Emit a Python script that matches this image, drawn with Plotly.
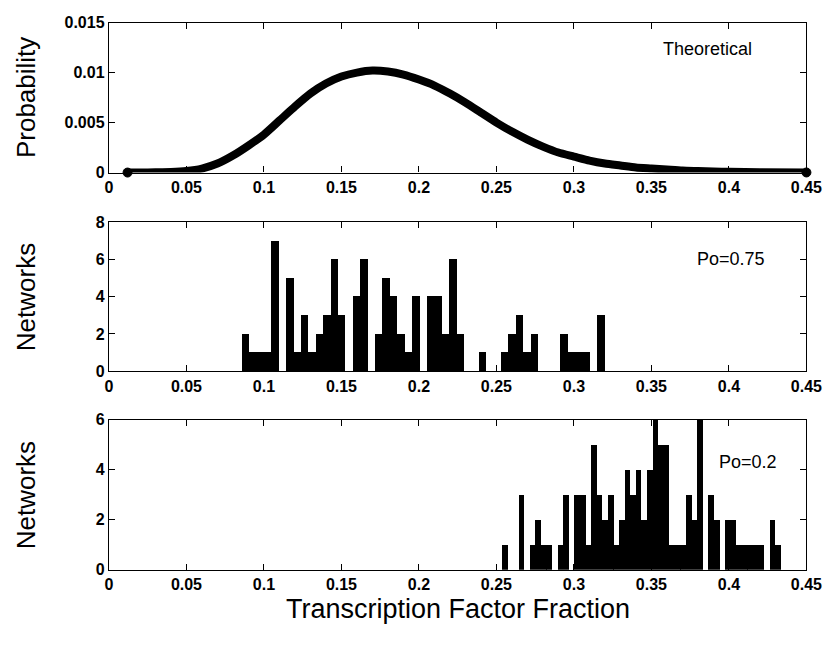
import plotly.graph_objects as go

# ---------------- data ----------------
theory_x = [0.012, 0.02, 0.03, 0.04, 0.05, 0.06, 0.07, 0.08, 0.09, 0.10,
            0.11, 0.12, 0.13, 0.14, 0.15, 0.16, 0.17, 0.18, 0.19, 0.20,
            0.21, 0.22, 0.23, 0.24, 0.25, 0.26, 0.27, 0.28, 0.29, 0.30,
            0.31, 0.32, 0.33, 0.34, 0.35, 0.36, 0.37, 0.38, 0.39, 0.40,
            0.42, 0.45]
theory_p = [0.0, 0.0, 0.00002, 0.00005, 0.00015, 0.0004, 0.0009, 0.0017, 0.0027, 0.0038,
            0.0052, 0.0066, 0.0079, 0.0089, 0.0096, 0.0100, 0.0102, 0.0101, 0.0098, 0.0093,
            0.0087, 0.0079, 0.0070, 0.0060, 0.0050, 0.0041, 0.0033, 0.0026, 0.0020, 0.0016,
            0.0012, 0.0009, 0.0007, 0.0005, 0.0004, 0.0003, 0.0002, 0.00015, 0.0001, 0.00007,
            0.00004, 0.00001]

po75_x = [0.0880, 0.0928, 0.0976, 0.1023, 0.1071, 0.1167, 0.1215, 0.1262, 0.1310, 0.1358,
          0.1406, 0.1454, 0.1501, 0.1597, 0.1645, 0.1740, 0.1788, 0.1836, 0.1884, 0.1932,
          0.1979, 0.2075, 0.2123, 0.2171, 0.2218, 0.2266, 0.2410, 0.2553, 0.2601, 0.2649,
          0.2696, 0.2744, 0.2935, 0.2983, 0.3031, 0.3079, 0.3174]
po75_n = [2, 1, 1, 1, 7, 5, 1, 3, 1, 2,
          3, 6, 3, 4, 6, 2, 5, 4, 2, 1,
          4, 4, 4, 2, 6, 2, 1, 1, 2, 3,
          1, 2, 2, 1, 1, 1, 3]

po20_x = [0.2553, 0.2661, 0.2733, 0.2769, 0.2805, 0.2841, 0.2913, 0.2949, 0.3021, 0.3057,
          0.3093, 0.3129, 0.3165, 0.3201, 0.3237, 0.3273, 0.3309, 0.3345, 0.3381, 0.3417,
          0.3453, 0.3489, 0.3525, 0.3561, 0.3597, 0.3633, 0.3669, 0.3705, 0.3741, 0.3777,
          0.3813, 0.3885, 0.3921, 0.3993, 0.4029, 0.4065, 0.4101, 0.4137, 0.4173, 0.4209,
          0.4281, 0.4317]
po20_n = [1, 3, 1, 2, 1, 1, 1, 3, 3, 3,
          1, 5, 3, 2, 3, 1, 2, 4, 3, 4,
          2, 4, 6, 5, 5, 1, 1, 1, 3, 2,
          6, 3, 2, 2, 2, 1, 1, 1, 1, 1,
          2, 1]

x_tick_vals = [0, 0.05, 0.1, 0.15, 0.2, 0.25, 0.3, 0.35, 0.4, 0.45]
x_tick_text = ["0", "0.05", "0.1", "0.15", "0.2", "0.25", "0.3", "0.35", "0.4", "0.45"]
y1_tick_vals = [0, 0.005, 0.01, 0.015]
y1_tick_text = ["0", "0.005", "0.01", "0.015"]
y2_tick_vals = [0, 2, 4, 6, 8]
y3_tick_vals = [0, 2, 4, 6]

# ---------------- layout geometry (pixels) ----------------
W, H = 840, 646
X0, X1 = 107.5, 822
panels = [(15, 169), (220, 373), (423, 577)]  # top, bottom pixel rows


def ydom(top, bot):
    return [1 - bot / H, 1 - top / H]


FONT = "Liberation Sans, Arial, sans-serif"
tickfont = dict(family=FONT, size=16, color="black", weight="bold")

axis_common = dict(
    showline=True, linecolor="black", linewidth=1.4, mirror="ticks",
    ticks="inside", ticklen=6, tickwidth=1.2, tickcolor="black",
    showgrid=False, zeroline=False, tickfont=tickfont,
)

fig = go.Figure()

n_pts = len(theory_x)
end_sizes = [9 if i in (0, n_pts - 1) else 0 for i in range(n_pts)]
fig.add_trace(go.Scatter(
    x=theory_x, y=theory_p, mode="lines+markers",
    line=dict(color="black", width=8, shape="spline", smoothing=0.6),
    marker=dict(size=end_sizes, color="black", opacity=1,
                line=dict(color="black", width=1)),
    xaxis="x", yaxis="y", showlegend=False, cliponaxis=False,
))
fig.add_trace(go.Bar(
    x=po75_x, y=po75_n, width=0.0049,
    marker=dict(color="black", line=dict(width=0)),
    xaxis="x2", yaxis="y2", showlegend=False,
))
fig.add_trace(go.Bar(
    x=po20_x, y=po20_n, width=0.0037,
    marker=dict(color="black", line=dict(width=0)),
    xaxis="x3", yaxis="y3", showlegend=False,
))

xdom = [X0 / W, X1 / W]
layout = dict(
    width=W, height=H, autosize=False,
    margin=dict(l=0, r=0, t=0, b=0),
    paper_bgcolor="white", plot_bgcolor="white",
    bargap=0, showlegend=False,
)
for i, (name_x, name_y, yvals, ytext, yrng) in enumerate([
    ("xaxis", "yaxis", y1_tick_vals, y1_tick_text, [0, 0.015]),
    ("xaxis2", "yaxis2", y2_tick_vals, [str(v) for v in y2_tick_vals], [0, 8]),
    ("xaxis3", "yaxis3", y3_tick_vals, [str(v) for v in y3_tick_vals], [0, 6]),
]):
    top, bot = panels[i]
    anchor_y = "y" if i == 0 else f"y{i+1}"
    anchor_x = "x" if i == 0 else f"x{i+1}"
    layout[name_x] = dict(axis_common, domain=xdom, range=[0, 0.45], anchor=anchor_y,
                          tickvals=x_tick_vals, ticktext=x_tick_text)
    layout[name_y] = dict(axis_common, domain=ydom(top, bot), range=yrng, anchor=anchor_x,
                          tickvals=yvals, ticktext=ytext)

fig.update_layout(**layout)

title_font = dict(family=FONT, size=26, color="black")
ann = [
    dict(text="Probability", x=22 / W, y=1 - 92 / H, textangle=-90),
    dict(text="Networks", x=22 / W, y=1 - 296.5 / H, textangle=-90),
    dict(text="Networks", x=22 / W, y=1 - 500 / H, textangle=-90),
    dict(text="Transcription Factor Fraction", x=464.75 / W, y=1 - 617 / H, textangle=0,
         font=dict(family=FONT, size=27, color="black")),
]
for a in ann:
    fig.add_annotation(xref="paper", yref="paper", showarrow=False,
                       xanchor="center", yanchor="middle",
                       font=a.pop("font", title_font), **a)

lab_font = dict(family=FONT, size=18, color="black")
fig.add_annotation(text="Theoretical", x=0.386, y=0.0124, xref="x", yref="y",
                   xanchor="center", yanchor="middle", showarrow=False, font=lab_font)
fig.add_annotation(text="Po=0.75", x=0.4015, y=6, xref="x2", yref="y2",
                   xanchor="center", yanchor="middle", showarrow=False, font=lab_font)
fig.add_annotation(text="Po=0.2", x=0.412, y=4.3, xref="x3", yref="y3",
                   xanchor="center", yanchor="middle", showarrow=False, font=lab_font)

fig.write_html("out.html")
